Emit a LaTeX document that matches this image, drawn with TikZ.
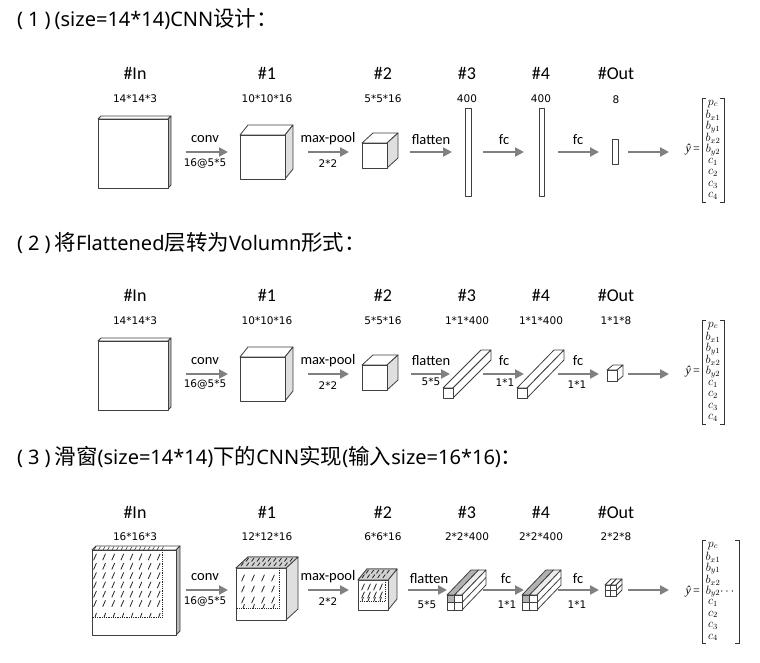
\documentclass[tikz,border=0pt]{standalone}
\usepackage{fontspec}
\usepackage{amsmath}
\setmainfont{Carlito}
\newfontfamily\dimfont{DejaVu Sans}
\newfontfamily\cjkfont{Noto Sans CJK SC}
\newfontfamily\headlat{Noto Sans}
\newfontfamily\yfont{Liberation Serif}
\usetikzlibrary{arrows.meta,calc}

\newcommand\hz[1]{{\cjkfont\fontsize{21.5}{24}\selectfont #1}}
\newcommand\hl[1]{{\headlat\fontsize{20}{24}\selectfont #1}}

\tikzset{
 head/.style={font=\fontsize{20}{24}\selectfont, anchor=west, inner sep=0},
 ttl/.style={font=\fontsize{18}{20}\selectfont, inner sep=0},
 dim/.style={font=\dimfont\fontsize{10.5}{12}\selectfont, inner sep=0},
 lbl/.style={font=\fontsize{14.5}{16}\selectfont, inner sep=0},
 arr/.style={draw=gray, line width=2.2pt, -{Triangle[length=9pt,width=9pt]}},
 bx/.style={draw=black!75, line width=0.8pt, line join=round},
 hat/.style={draw=black!85, line width=0.8pt},
 ent/.style={font=\fontsize{11.5}{12}\selectfont, inner sep=0},
 yhat/.style={font=\yfont\fontsize{12}{13}\selectfont, inner sep=0, anchor=east},
 brk/.style={draw=black!80, line width=0.6pt},
}

% front rectangle (x1,y1)-(x2,y2), depth (dx,dy), fill of right face
\newcommand\mycube[7]{%
 \filldraw[bx,fill=white] (#1,#2) -- ++(#5,#6) -- ($(#3,#2)+(#5,#6)$) -- (#3,#2) -- cycle;
 \filldraw[bx,fill=#7] (#3,#2) -- ++(#5,#6) -- ($(#3,#4)+(#5,#6)$) -- (#3,#4) -- cycle;
 \filldraw[bx,fill=white] (#1,#2) rectangle (#3,#4);
}
% grid of slashes: first centre (x0,y0), nx, ny, step x, step y
\newcommand\hatchgrid[6]{%
 \foreach \i in {1,...,#3}{\foreach \j in {1,...,#4}{%
   \draw[hat] ({#1+(\i-1)*#5-1.4},{#2+(\j-1)*#6+3.2}) -- ++(2.8,-6.4);}}
}
% prism with 2x2 front grid: x,y,size,dx,dy, top-left fill, top-right fill, right fill, front cell fill
\newcommand\gprism[9]{%
 \coordinate (A) at (#1,#2);
 \coordinate (B) at ($(#1,#2)+(#3/2,0)$);
 \coordinate (C) at ($(#1,#2)+(#3,0)$);
 \coordinate (D) at ($(#1,#2)+(#3,#3/2)$);
 \coordinate (E) at ($(#1,#2)+(#3,#3)$);
 \coordinate (O) at (#4,#5);
 \filldraw[bx,fill=#6] (A) -- ($(A)+(O)$) -- ($(B)+(O)$) -- (B) -- cycle;
 \filldraw[bx,fill=#7] (B) -- ($(B)+(O)$) -- ($(C)+(O)$) -- (C) -- cycle;
 \filldraw[bx,fill=#8] (C) -- ($(C)+(O)$) -- ($(E)+(O)$) -- (E) -- cycle;
 \draw[bx] (D) -- ($(D)+(O)$);
 \filldraw[bx,fill=white] (A) rectangle (E);
 \filldraw[bx,fill=#9] (A) rectangle ($(A)+(#3/2,#3/2)$);
 \draw[bx] (B) -- ($(B)+(0,#3)$);
 \draw[bx] (D) -- ($(A)+(0,#3/2)$);
}
% output vector: row tag, top y, bottom y, right bracket x, entry pitch
\newcommand\outvec[5]{%
 \draw[brk] (706,#2) -- (702,#2) -- (702,#3) -- (706,#3);
 \draw[brk] ({#4-4},#2) -- (#4,#2) -- (#4,#3) -- ({#4-4},#3);
 \node[yhat] (yh#1) at (700,{(#2+#3)/2}) {{\itshape ŷ}\,=};
 \foreach \e [count=\k] in {p_c,b_{x1},b_{y1},b_{x2},b_{y2}\ifnum#1=3\rlap{$\cdots$}\fi,c_1,c_2,c_3,c_4}{
   \node[ent] (v#1e\k) at (713,{#2+#5/2+(\k-1)*#5}) {$\e$};}
}

\begin{document}
\begin{tikzpicture}[x=1pt,y=-1pt]
\useasboundingbox[fill=white] (0,0) rectangle (760,662);

% ---------- headings ----------
\node[head] (h1) at (17,19) {\hl{(\hspace{5pt}1\hspace{5pt})\hspace{4pt}(size=14*14)CNN}\hz{设计：}};
\node[head] (h2) at (17,243) {\hl{(\hspace{5pt}2\hspace{5pt})\hspace{4pt}}\hz{将}\hl{Flattened}\hz{层转为}\hl{Volumn}\hz{形式：}};
\node[head] (h3) at (17,457) {\hl{(\hspace{5pt}3\hspace{5pt})\hspace{4pt}}\hz{滑窗}\hl{(size=14*14)}\hz{下的}\hl{CNN}\hz{实现}\hl{(}\hz{输入}\hl{size=16*16)}\hz{：}};

% ---------- titles ----------
\foreach \r/\ty in {1/73,2/295,3/512}{
 \node[ttl] (t\r in) at (135,\ty) {\#In};
 \node[ttl] (t\r a) at (267,\ty) {\#1};
 \node[ttl] (t\r b) at (383,\ty) {\#2};
 \node[ttl] (t\r c) at (467,\ty) {\#3};
 \node[ttl] (t\r d) at (541,\ty) {\#4};
 \node[ttl] (t\r out) at (616,\ty) {\#Out};
}
% ---------- dims ----------
\node[dim] (d1in) at (135,99) {14*14*3};
\node[dim] (d1a) at (267,99) {10*10*16};
\node[dim] (d1b) at (383,99) {5*5*16};
\node[dim] (d1c) at (467,99) {400};
\node[dim] (d1d) at (541,99) {400};
\node[dim] (d1out) at (616,100) {8};

\node[dim] (d2in) at (135,321) {14*14*3};
\node[dim] (d2a) at (267,321) {10*10*16};
\node[dim] (d2b) at (383,321) {5*5*16};
\node[dim] (d2c) at (467,321) {1*1*400};
\node[dim] (d2d) at (541,321) {1*1*400};
\node[dim] (d2out) at (616,321) {1*1*8};

\node[dim] (d3in) at (135,537) {16*16*3};
\node[dim] (d3a) at (267,537) {12*12*16};
\node[dim] (d3b) at (383,537) {6*6*16};
\node[dim] (d3c) at (467,537) {2*2*400};
\node[dim] (d3d) at (541,537) {2*2*400};
\node[dim] (d3out) at (616,537) {2*2*8};

% ---------- arrows ----------
\foreach \r/\y/\fs/\fe in {1/152/410/452,2/374/411/450,3/590/408/447}{
 \coordinate (c\r s) at (186,\y); \coordinate (c\r e) at (228,\y);
 \coordinate (m\r s) at (308,\y); \coordinate (m\r e) at (349,\y);
 \coordinate (f\r s) at (\fs,\y); \coordinate (f\r e) at (\fe,\y);
 \coordinate (g\r s) at (483,\y); \coordinate (g\r e) at (524,\y);
 \coordinate (k\r s) at (558,\y); \coordinate (k\r e) at (599,\y);
 \coordinate (p\r s) at (628,\y); \coordinate (p\r e) at (669,\y);
 \draw[arr] (c\r s) -- (c\r e);
 \draw[arr] (m\r s) -- (m\r e);
 \draw[arr] (f\r s) -- (f\r e);
 \draw[arr] (g\r s) -- (g\r e);
 \draw[arr] (k\r s) -- (k\r e);
 \draw[arr] (p\r s) -- (p\r e);
}

% ---------- arrow labels ----------
\node[lbl] (l1c) at (205,139) {conv};
\node[dim] (l1c2) at (205,164) {16@5*5};
\node[lbl] (l1m) at (328,139) {max-pool};
\node[dim] (l1m2) at (328,164) {2*2};
\node[lbl] (l1f) at (431,140) {flatten};
\node[lbl] (l1g) at (504,140) {fc};
\node[lbl] (l1k) at (578,140) {fc};

\node[lbl] (l2c) at (205,361) {conv};
\node[dim] (l2c2) at (205,385) {16@5*5};
\node[lbl] (l2m) at (328,361) {max-pool};
\node[dim] (l2m2) at (328,386) {2*2};
\node[lbl] (l2f) at (431,361) {flatten};
\node[dim] (l2f2) at (431,382) {5*5};
\node[lbl] (l2g) at (504,361) {fc};
\node[dim] (l2g2) at (505,383) {1*1};
\node[lbl] (l2k) at (578,361) {fc};
\node[dim] (l2k2) at (577,385) {1*1};

\node[lbl] (l3c) at (205,577) {conv};
\node[dim] (l3c2) at (205,602) {16@5*5};
\node[lbl] (l3m) at (328,577) {max-pool};
\node[dim] (l3m2) at (328,602) {2*2};
\node[lbl] (l3f) at (429,579) {flatten};
\node[dim] (l3f2) at (427,605) {5*5};
\node[lbl] (l3g) at (506,579) {fc};
\node[dim] (l3g2) at (507,605) {1*1};
\node[lbl] (l3k) at (578,579) {fc};
\node[dim] (l3k2) at (577,605) {1*1};

% ---------- row 1 shapes ----------
\mycube{98}{119}{168}{188}{3}{-3}{gray!55}
\mycube{240}{135}{285}{179}{8}{-10}{gray!25}
\mycube{362}{143}{387}{168}{11}{-10}{gray!25}
\draw[bx] (465,108) rectangle (471,196);
\draw[bx] (539,108) rectangle (544,196);
\draw[bx] (612,139) rectangle (618,164);

% ---------- row 2 shapes ----------
\mycube{98}{341}{168}{410}{3}{-3}{gray!55}
\mycube{240}{357}{285}{401}{8}{-10}{gray!25}
\mycube{362}{365}{387}{390}{11}{-10}{gray!25}
\mycube{443}{388}{453}{398}{38}{-38}{white}
\mycube{517}{388}{527}{398}{37}{-38}{white}
\mycube{607}{370}{617}{381}{6}{-5}{white}

% ---------- row 3 shapes ----------
\mycube{92}{550}{176}{635}{4}{-4}{gray!55}
\foreach \i in {0,...,15}{\draw[hat,line width=0.5pt] ({94+\i*4.5},550) -- ++(2,-3.5);}
\hatchgrid{95}{557}{8}{6}{9.1}{9.3}
\draw[hat,densely dotted] (162,550) -- (162,617) -- (92,617);
\foreach \i in {0,...,7}{\draw[hat] ({95+\i*9.1},617) -- ++(1.5,-4);}

\mycube{236}{568}{286}{620}{12}{-11}{gray!25}
\fill[gray!35] (236,568) -- ++(12,-11) -- (298,557) -- (286,568) -- cycle;
\draw[bx] (236,568) -- ++(12,-11) -- (298,557) -- (286,568) -- cycle;
\foreach \i in {0,...,8}{\draw[hat] ({241+\i*5.5},566) -- ++(2.5,-3.5);
                         \draw[hat] ({246+\i*5.5},561.5) -- ++(2.5,-3.5);}
\hatchgrid{243}{578}{4}{3}{10}{11}
\draw[hat,densely dotted] (279,568) -- (279,608) -- (236,608);
\foreach \i in {0,...,3}{\draw[hat] ({243+\i*10},608) -- ++(1.5,-4);}

\mycube{358}{580}{388}{610}{9}{-11}{gray!25}
\fill[gray!35] (358,580) -- ++(9,-11) -- (397,569) -- (388,580) -- cycle;
\draw[bx] (358,580) -- ++(9,-11) -- (397,569) -- (388,580) -- cycle;
\foreach \i in {0,...,4}{\draw[hat] ({362+\i*5.2},578) -- ++(2.5,-3.5);
                         \draw[hat] ({366+\i*5.2},573.5) -- ++(2.5,-3.5);}
\hatchgrid{363}{587}{4}{2}{6}{8}
\draw[hat,densely dotted] (385,580) -- (385,601) -- (358,601);
\foreach \i in {0,...,3}{\draw[hat] ({362+\i*6},601) -- ++(1.5,-4);}

\gprism{447}{595}{15}{24}{-25}{gray!60}{gray!15}{white}{gray!60}
\gprism{522}{595}{15}{24}{-25}{gray!60}{gray!15}{white}{gray!60}
\gprism{605}{585}{11}{6}{-6}{white}{white}{white}{white}

% ---------- output vectors ----------
\outvec{1}{98}{202}{724}{11.55}
\outvec{2}{320}{424}{724}{11.55}
\outvec{3}{540}{643}{739}{11.45}
\end{tikzpicture}
\end{document}
